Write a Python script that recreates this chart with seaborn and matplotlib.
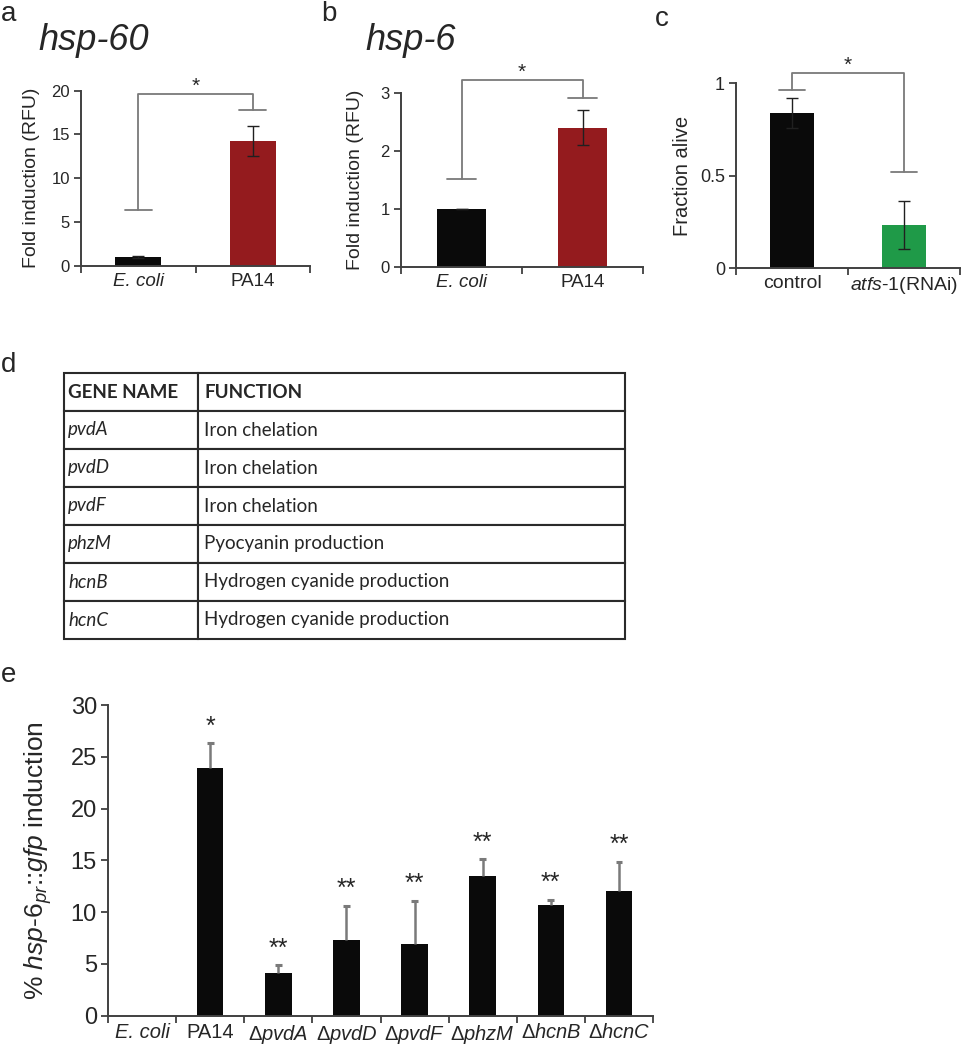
import numpy as np
import matplotlib
matplotlib.use("Agg")
import matplotlib.pyplot as plt
import seaborn as sns

sns.set_style("white")
plt.rcParams['font.family'] = ['Liberation Sans', 'DejaVu Sans']
plt.rcParams['mathtext.fontset'] = 'custom'
plt.rcParams['mathtext.rm'] = 'Liberation Sans'
plt.rcParams['mathtext.it'] = 'Liberation Sans:italic'

# ---- data ----
# panel a: hsp-60
a_cats = ["E. coli", "PA14"]
a_vals = [1.0, 14.25]
a_err = [0.1, 1.75]
# panel b: hsp-6
b_cats = ["E. coli", "PA14"]
b_vals = [1.0, 2.4]
b_err = [0.0, 0.3]
# panel c: survival
c_cats = ["control", "atfs-1(RNAi)"]
c_vals = [0.84, 0.235]
c_err = [0.08, 0.128]
# panel d: table
d_genes = ["pvdA", "pvdD", "pvdF", "phzM", "hcnB", "hcnC"]
d_funcs = ["Iron chelation", "Iron chelation", "Iron chelation",
           "Pyocyanin production", "Hydrogen cyanide production",
           "Hydrogen cyanide production"]
# panel e: hsp-6pr::gfp induction in mutants
e_cats = ["E. coli", "PA14", "pvdA", "pvdD", "pvdF", "phzM", "hcnB", "hcnC"]
e_vals = [0, 23.9, 4.1, 7.3, 6.9, 13.5, 10.65, 12.05]
e_err = [0, 2.4, 0.75, 3.3, 4.2, 1.6, 0.55, 2.8]
e_stars = ["", "*", "**", "**", "**", "**", "**", "**"]

RED = "#941b1e"
GREEN = "#1f9a48"
BLACK = "#0a0a0a"
AXC = "#404040"
GREY = "#7a7a7a"

W, H = 961, 1050
fig = plt.figure(figsize=(W / 100, H / 100), dpi=100)


def px_axes(x0, y0, x1, y1):
    return fig.add_axes([x0 / W, 1 - y1 / H, (x1 - x0) / W, (y1 - y0) / H])


def style_axes(ax, ncat, fs_tick):
    sns.despine(ax=ax)
    for s in ["left", "bottom"]:
        ax.spines[s].set_color(AXC)
        ax.spines[s].set_linewidth(1.4)
    ax.set_xlim(-0.5, ncat - 0.5)
    ax.set_xlabel("")
    ax.tick_params(axis="y", direction="out", length=5, width=1.3,
                   color=AXC, labelsize=fs_tick, left=True, pad=3)
    # excel-style category ticks at boundaries
    ax.set_xticks(np.arange(ncat + 1) - 0.5, minor=True)
    ax.tick_params(axis="x", which="minor", direction="out", length=5,
                   width=1.3, color=AXC, bottom=True)
    ax.tick_params(axis="x", which="major", length=0, pad=5)


def italic_ticks(ax, idx):
    for i, t in enumerate(ax.get_xticklabels()):
        if i in idx:
            t.set_fontstyle("italic")


def bracket(ax, x0, x1, yl, yr, ytop, ystar, cap=0.12):
    kw = dict(color=GREY, lw=1.3, clip_on=False)
    ax.plot([x0, x0, x1, x1], [yl, ytop, ytop, yr], **kw)
    ax.plot([x0 - cap, x0 + cap], [yl, yl], **kw)
    ax.plot([x1 - cap, x1 + cap], [yr, yr], **kw)
    ax.text((x0 + x1) / 2, ystar, "*", ha="center", va="center",
            fontsize=15, clip_on=False)


def barpanel(ax, cats, vals, errs, colors, fs_tick):
    sns.barplot(x=list(range(len(cats))), y=vals, hue=list(range(len(cats))),
                palette=colors, legend=False, width=0.4, ax=ax,
                edgecolor="none", saturation=1)
    ax.errorbar(range(len(cats)), vals, yerr=errs, fmt="none",
                ecolor="#202020", elinewidth=1.0, capsize=4, capthick=1.0)
    style_axes(ax, len(cats), fs_tick)


# ---- panel a ----
ax = px_axes(81, 90.7, 310, 265.7)
barpanel(ax, a_cats, a_vals, a_err, [BLACK, RED], 12)
ax.set_ylim(0, 20)
ax.set_yticks([0, 5, 10, 15, 20])
ax.set_xticks([0, 1])
ax.set_xticklabels(a_cats, fontsize=13.5)
italic_ticks(ax, [0])
ax.set_ylabel("Fold induction (RFU)", fontsize=14, labelpad=8)
bracket(ax, 0, 1, 6.4, 17.85, 19.6, 20.5)

# ---- panel b ----
ax = px_axes(401, 93, 643, 267)
barpanel(ax, b_cats, b_vals, b_err, [BLACK, RED], 12)
ax.set_ylim(0, 3)
ax.set_yticks([0, 1, 2, 3])
ax.set_xticks([0, 1])
ax.set_xticklabels(b_cats, fontsize=13.5)
italic_ticks(ax, [0])
ax.set_ylabel("Fold induction (RFU)", fontsize=14, labelpad=12)
bracket(ax, 0, 1, 1.52, 2.92, 3.22, 3.35)

# ---- panel c ----
ax = px_axes(736, 83.3, 960, 268.3)
barpanel(ax, c_cats, c_vals, c_err, [BLACK, GREEN], 13)
ax.set_ylim(0, 1)
ax.set_yticks([0, 0.5, 1])
ax.set_yticklabels(["0", "0.5", "1"])
ax.set_xticks([0, 1])
ax.set_xticklabels(["control", "$\\mathit{atfs}$-$\\mathit{1}$(RNAi)"],
                   fontsize=14)
ax.set_ylabel("Fraction alive", fontsize=14.5, labelpad=6)
bracket(ax, 0, 1, 0.964, 0.52, 1.054, 1.095)

# ---- panel d: table ----
ax = px_axes(64, 373, 625, 639)
ax.axis("off")
rows = [["GENE NAME", "FUNCTION"]] + [[g, f] for g, f in zip(d_genes, d_funcs)]
tab = ax.table(cellText=rows, colWidths=[0.239, 0.761], loc="center",
               cellLoc="left", bbox=[0, 0, 1, 1])
tab.auto_set_font_size(False)
for (r, c), cell in tab.get_celld().items():
    cell.set_edgecolor("#2a2a2a")
    cell.set_linewidth(1.5)
    cell.PAD = 0.03 if c == 0 else 0.015
    t = cell.get_text()
    t.set_fontsize(13.5)
    t.set_fontfamily(["Lato", "DejaVu Sans"])
    if r == 0:
        t.set_fontweight("bold")
    elif c == 0:
        t.set_fontstyle("italic")

# ---- panel e ----
ax = px_axes(108, 705, 653, 1015.7)
xs = np.arange(len(e_cats))
sns.barplot(x=list(xs), y=e_vals, color=BLACK,
            width=0.39, ax=ax, edgecolor="none", saturation=1)
tops = np.array(e_vals) + np.array(e_err)
show = np.array(e_err) > 0
ax.vlines(xs[show], np.array(e_vals)[show], tops[show], color=GREY, lw=1.8)
ax.hlines(tops[show], xs[show] - 0.05, xs[show] + 0.05, color=GREY, lw=2.2)
for i, s in enumerate(e_stars):
    if s:
        ax.text(i, tops[i] + 1.6, s, ha="center", va="center", fontsize=18)
style_axes(ax, len(e_cats), 17)
ax.set_ylim(0, 30)
ax.set_yticks([0, 5, 10, 15, 20, 25, 30])
ax.set_xticks(xs)
e_labels = ["E. coli", "PA14"] + ["Δ$\\mathit{%s}$" % c for c in e_cats[2:]]
ax.set_xticklabels(e_labels, fontsize=14.5)
italic_ticks(ax, [0])
ax.set_ylabel("% $\\mathit{hsp}$-$\\mathit{6}_{\\mathit{pr}}$::$\\mathit{gfp}$ induction",
              fontsize=19, labelpad=12)

# ---- titles and panel letters ----
fig.text(38 / W, 1 - 50 / H, "hsp-60", fontsize=26, fontstyle="italic",
         va="baseline")
fig.text(365 / W, 1 - 50 / H, "hsp-6", fontsize=26, fontstyle="italic",
         va="baseline")
for lab, x, y in [("a", 1, 21), ("b", 321, 21), ("c", 655, 26),
                  ("d", 1, 372), ("e", 1, 682)]:
    fig.text(x / W, 1 - y / H, lab, fontsize=20, va="baseline")

fig.savefig("out.png", dpi=100, facecolor="white")
